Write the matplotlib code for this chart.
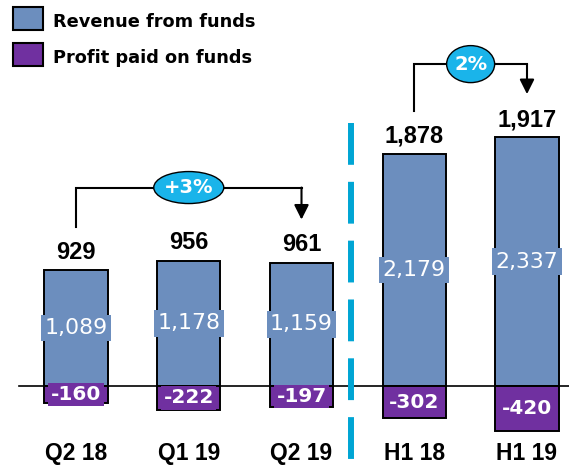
import matplotlib.pyplot as plt
from matplotlib.patches import Ellipse, Rectangle

categories = ["Q2 18", "Q1 19", "Q2 19", "H1 18", "H1 19"]
revenue = [1089, 1178, 1159, 2179, 2337]
profit_paid = [-160, -222, -197, -302, -420]
net = [929, 956, 961, 1878, 1917]
growth_labels = ["+3%", "2%"]
growth_pairs = [(0, 2), (3, 4)]
legend_labels = ["Revenue from funds", "Profit paid on funds"]

BLUE = "#6C8EBE"
PURPLE = "#7030A0"
CYAN = "#1AB4EA"
DASH = "#00A5D4"

W, H = 569, 466
fig = plt.figure(figsize=(W / 100, H / 100), dpi=100)
ax = fig.add_axes([0, 0, 1, 1])
ax.axis("off")

# pixel scale helpers (x: 1 slot = 112.75 px, y: 1 px = 9.39 units)
XS = 112.75
YS = 9.39
x0px = 76
zero_px = 80
ax.set_xlim(-x0px / XS, (W - x0px) / XS)
ax.set_ylim(-zero_px * YS, (H - zero_px) * YS)

x = list(range(len(categories)))
ax.plot([(19 - x0px) / XS, (W - x0px) / XS], [0, 0], color="black", lw=1.2, zorder=1)

ax.bar(x, revenue, width=0.56, color=BLUE, edgecolor="black", linewidth=1.4, zorder=2)
ax.bar(x, profit_paid, width=0.56, color=PURPLE, edgecolor="black", linewidth=1.4, zorder=2)

for i in x:
    ax.text(i, revenue[i] / 2, f"{revenue[i]:,}", ha="center", va="center",
            color="white", fontsize=15.8, family="DejaVu Sans", zorder=4,
            bbox=dict(boxstyle="square,pad=0.15", fc=BLUE, ec="none"))
    ax.text(i, profit_paid[i] / 2, f"{profit_paid[i]}", ha="center", va="center",
            color="white", fontsize=14.4, fontweight="bold", family="DejaVu Sans", zorder=4,
            bbox=dict(boxstyle="square,pad=0.12", fc=PURPLE, ec="none"))
    ax.annotate(f"{net[i]:,}", (i, revenue[i]), xytext=(0, 8), textcoords="offset points",
                ha="center", va="baseline", fontsize=17, fontweight="bold",
                family="Liberation Sans", zorder=4)
    ax.text(i, -74 * YS, categories[i], ha="center", va="baseline", fontsize=16.5,
            fontweight="bold", family="Liberation Sans")

# growth brackets
for (a, b), lab in zip(growth_pairs, growth_labels):
    top = max(revenue[a:b + 1]) + 73 * YS
    start = revenue[a] + 43 * YS
    tip = revenue[b] + 43 * YS
    ax.plot([a, a, b], [start, top, top], color="black", lw=1.5, zorder=3,
            solid_joinstyle="miter")
    ax.annotate("", xy=(b, tip), xytext=(b, top),
                arrowprops=dict(arrowstyle="-|>", color="black", lw=1.5,
                                mutation_scale=22, shrinkA=0, shrinkB=0), zorder=3)
    mid = (a + b) / 2
    ew = (70 if len(lab) > 2 else 48) / XS
    eh = (32 if len(lab) > 2 else 37) * YS
    ax.add_patch(Ellipse((mid, top), ew, eh, fc=CYAN, ec="black", lw=1.0, zorder=5))
    ax.text(mid, top, lab, ha="center", va="center", color="white", fontsize=14,
            fontweight="bold", family="DejaVu Sans", zorder=6)

# separator
sep = 2.44
ax.plot([sep, sep], [(386 - 123) * YS, (386 - 462) * YS], color=DASH, lw=4.3,
        dashes=[7.0, 2.85], zorder=1)

# legend
for k, (lab, col) in enumerate(zip(legend_labels, [BLUE, PURPLE])):
    top_px = 7 + k * 36
    fig.add_artist(Rectangle((13 / W, 1 - (top_px + 23) / H), 30 / W, 23 / H,
                             transform=fig.transFigure, fc=col, ec="black", lw=1.5))
    fig.text(53 / W, 1 - (top_px + 20) / H, lab, ha="left", va="baseline",
             fontsize=12.8, fontweight="bold", family="DejaVu Sans")

fig.savefig("out.png", dpi=100)
